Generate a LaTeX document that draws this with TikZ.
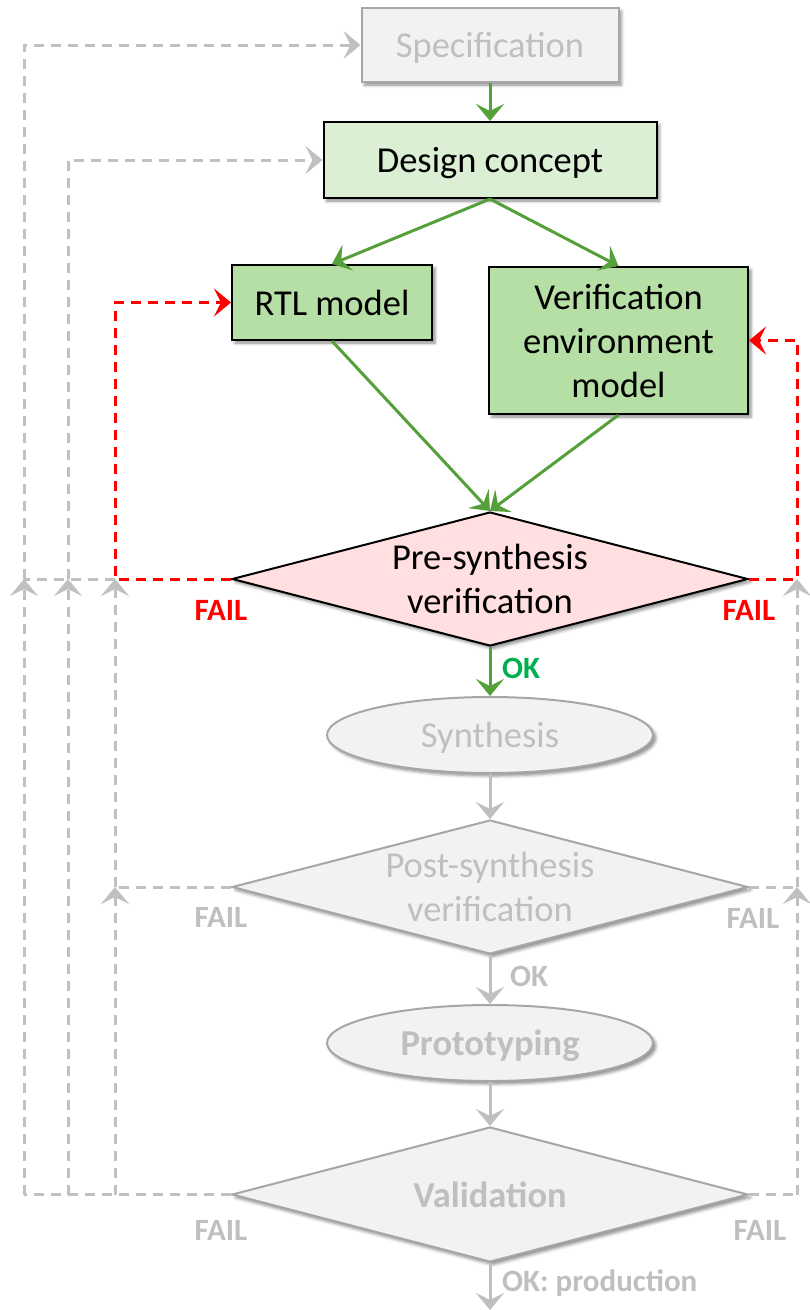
\documentclass[tikz,border=0pt]{standalone}
\usepackage{fontspec}
\setmainfont{Carlito}
\usetikzlibrary{arrows.meta,shapes.geometric,shadows.blur,calc}
\definecolor{grn}{HTML}{55A03A}
\definecolor{okgrn}{HTML}{00B050}
\definecolor{lgrn}{HTML}{DAEFD3}
\definecolor{mgrn}{HTML}{B6DFA6}
\definecolor{pinkf}{HTML}{FFDFDF}
\definecolor{gfill}{HTML}{F2F2F2}
\definecolor{gline}{HTML}{A6A6A6}
\definecolor{gtext}{HTML}{BFBFBF}
\definecolor{gdash}{HTML}{C0C0C0}
\definecolor{redc}{HTML}{FF0000}
\tikzset{
  shd/.style={blur shadow={shadow xshift=3pt,shadow yshift=-3pt,shadow blur radius=3pt,shadow opacity=45}},
  boxtxt/.style={font=\fontsize{36.5}{44}\selectfont, align=center},
  oneline/.style={text height=34pt, text depth=9pt},
  boxnode/.style={rectangle, draw=black, line width=2pt, inner sep=0pt, shd, boxtxt},
  graybox/.style={rectangle, draw=gline, line width=2pt, fill=gfill, text=gtext, inner sep=0pt, shd, boxtxt},
  dia/.style={diamond, line width=2pt, inner sep=0pt, minimum width=516pt, shd},
  ell/.style={ellipse, draw=gline, line width=2pt, fill=gfill, minimum width=326pt, minimum height=76pt, inner sep=0pt, text=gtext, shd, boxtxt},
  tip/.style={-{Stealth[length=17pt,width=28pt,inset=7pt]}},
  gconn/.style={grn, line width=3pt, tip},
  grayconn/.style={gtext, line width=3pt, tip},
  gdashl/.style={gdash, line width=3pt, dash pattern=on 10pt off 7pt},
  rdashl/.style={redc, line width=3pt, dash pattern=on 10pt off 7pt},
  faillbl/.style={font=\fontsize{31}{36}\bfseries\selectfont, inner sep=0pt},
}
\begin{document}
\begin{tikzpicture}[x=1pt,y=-1pt]
\useasboundingbox (0,0) rectangle (810,1310);
% nodes
\node[graybox, oneline, minimum width=257pt, minimum height=74pt] (spec) at (490,45) {Specification};
\node[boxnode, oneline, fill=lgrn, minimum width=333pt, minimum height=76pt] (design) at (490,160) {Design concept};
\node[boxnode, oneline, fill=mgrn, minimum width=200pt, minimum height=75pt] (rtl) at (332,302.5) {RTL model};
\node[boxnode, fill=mgrn, minimum width=259pt, minimum height=147pt] (vem) at (618.5,340.5) {Verification\\environment\\model};
\node[dia, draw=black, fill=pinkf, minimum height=134pt] (pre) at (490,579) {};
\node[boxtxt] (pretxt) at (pre.center) {Pre-synthesis\\verification};
\node[ell, oneline] (synth) at (490,735) {Synthesis};
\node[dia, draw=gline, fill=gfill, minimum height=134pt] (post) at (490,887) {};
\node[boxtxt, text=gtext] (posttxt) at (post.center) {Post-synthesis\\verification};
\node[ell, oneline, font=\fontsize{36.5}{44}\bfseries\selectfont] (proto) at (490,1043) {Prototyping};
\node[dia, draw=gline, fill=gfill, minimum height=135pt] (val) at (490,1194.5) {};
\node[boxtxt, text=gtext, font=\fontsize{36.5}{44}\bfseries\selectfont] (valtxt) at (val.center) {Validation};
% helper coordinates
\coordinate (L1) at (24,579);
\coordinate (L2) at (68,579);
\coordinate (L3) at (115,579);
\coordinate (M3) at (115,887);
\coordinate (B1) at (24,1194.5);
\coordinate (B2) at (68,1194.5);
\coordinate (B3) at (115,1194.5);
\coordinate (LR) at (797,579);
\coordinate (MR) at (797,887);
\coordinate (BR) at (797,1194.5);
\coordinate (endp) at (490,1310);
% gray feedback
\draw[gdashl] (L3) -- (L1);
\draw[gdashl, tip] (L2) |- (design.west);
\draw[gdashl, tip] (L1) |- (spec.west);
\draw[gdashl] (post.west) -- (M3);
\draw[gdashl, tip] (M3) -- (L3);
\draw[gdashl] (val.west) -- (B1);
\draw[gdashl, tip] (B3) -- (M3);
\draw[gdashl, tip] (B2) -- (L2);
\draw[gdashl, tip] (B1) -- (L1);
\draw[gdashl] (val.east) -- (BR);
\draw[gdashl, tip] (BR) -- (MR);
\draw[gdashl] (post.east) -- (MR);
\draw[gdashl, tip] (MR) -- (LR);
% red feedback
\draw[rdashl, tip] (pre.west) -- (L3) |- (rtl.west);
\draw[rdashl, tip] (pre.east) -- (LR) |- (vem.east);
% green connectors
\draw[gconn] (spec.south) -- (design.north);
\draw[gconn] (design.south) -- (rtl.north);
\draw[gconn] (design.south) -- (vem.north);
\draw[gconn] (rtl.south) -- (pre.north);
\draw[gconn] (vem.south) -- (pre.north);
\draw[gconn] (pre.south) -- (synth.north);
% gray connectors
\draw[grayconn] (synth.south) -- (post.north);
\draw[grayconn] (post.south) -- (proto.north);
\draw[grayconn] (proto.south) -- (val.north);
\draw[grayconn] (val.south) -- (endp);
% labels
\node[faillbl, text=redc] (f1) at (221,610) {FAIL};
\node[faillbl, text=redc] (f2) at (749,610) {FAIL};
\node[faillbl, text=gtext] (f3) at (221,917) {FAIL};
\node[faillbl, text=gtext] (f4) at (753,918) {FAIL};
\node[faillbl, text=gtext] (f5) at (221,1230) {FAIL};
\node[faillbl, text=gtext] (f6) at (760,1230) {FAIL};
\node[faillbl, text=okgrn, anchor=west] (ok1) at (502,668) {OK};
\node[faillbl, text=gtext, anchor=west] (ok2) at (510,976) {OK};
\node[faillbl, text=gtext, anchor=west] (ok3) at (502,1283) {OK: production};
\end{tikzpicture}
\end{document}
